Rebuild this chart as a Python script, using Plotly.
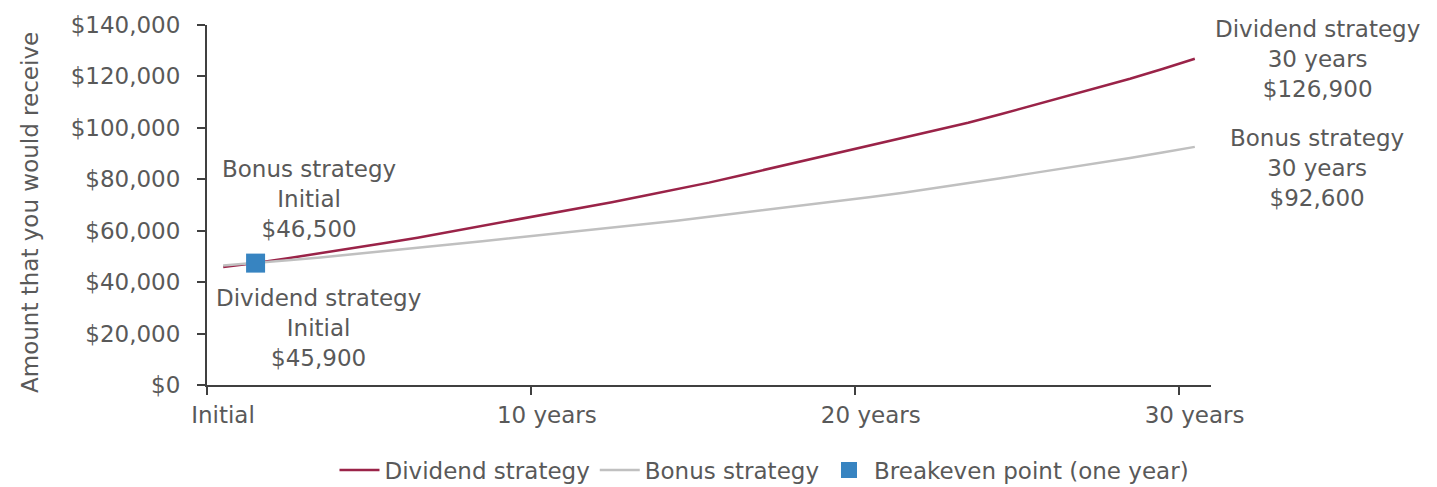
import plotly.graph_objects as go

# Year index: 0 = initial payment, then one value per year up to 30 years
years = list(range(31))

dividend_strategy = [
    45900, 47400, 49300, 51200, 53200, 55200, 57300, 59600, 61800, 64100,
    66300, 68600, 71100, 73600, 76100, 78700, 81600, 84500, 87400, 90400,
    93300, 96100, 98900, 102000, 105300, 108700, 112100, 115600, 119100, 122900,
    126900,
]
bonus_strategy = [
    46500, 47400, 48500, 49600, 50800, 52000, 53300, 54600, 55900, 57200,
    58500, 59800, 61100, 62500, 63900, 65400, 66900, 68400, 69900, 71500,
    73100, 74800, 76600, 78500, 80400, 82400, 84300, 86300, 88300, 90400,
    92600,
]
breakeven_year = [1]
breakeven_value = [47400]

x_tick_labels = ["Initial", "10 years", "20 years", "30 years"]
x_label_years = [0, 10, 20, 30]
y_ticks = [0, 20000, 40000, 60000, 80000, 100000, 120000, 140000]

FONT = "DejaVu Sans, Liberation Sans, Arial, sans-serif"
TEXT = "#595959"
AXIS = "#404040"
FS = 23

W, H = 1437, 487
M_L, M_R, M_T, M_B = 207, 226, 23, 102

fig = go.Figure()
fig.add_trace(go.Scatter(
    x=years, y=dividend_strategy, mode="lines", name="Dividend strategy",
    line=dict(color="#9A2348", width=2.5),
))
fig.add_trace(go.Scatter(
    x=years, y=bonus_strategy, mode="lines", name="Bonus strategy",
    line=dict(color="#C0C0C0", width=2.5),
))
fig.add_trace(go.Scatter(
    x=breakeven_year, y=breakeven_value, mode="markers",
    name="Breakeven point (one year)",
    marker=dict(symbol="square", size=19, color="#3784C1"),
))

# Category-style axis: tick marks sit between years, labels centred on the year
tick_marks = [v - 0.5 for v in x_label_years]
x_range = [-0.5, len(years) - 0.5]
y_range = [0, 140000]

fig.update_layout(
    width=W, height=H,
    margin=dict(l=M_L, r=M_R, t=M_T, b=M_B),
    paper_bgcolor="white", plot_bgcolor="white",
    font=dict(family=FONT, size=FS, color=TEXT),
    showlegend=True,
    legend=dict(
        orientation="h", xref="container", yref="container",
        x=0.532, xanchor="center", y=0.035, yanchor="middle",
        font=dict(family=FONT, size=FS, color=TEXT), itemwidth=40,
        traceorder="normal",
    ),
    xaxis=dict(
        range=x_range, tickmode="array", tickvals=tick_marks,
        ticktext=x_tick_labels, ticklabelshift=16,
        ticks="outside", ticklen=8, tickwidth=2, tickcolor=AXIS,
        showline=True, linecolor=AXIS, linewidth=2,
        showgrid=False, zeroline=False,
        tickfont=dict(family=FONT, size=FS, color=TEXT),
    ),
    xaxis2=dict(
        overlaying="x", anchor="y", side="bottom", range=x_range,
        tickmode="array", tickvals=tick_marks, showticklabels=False,
        ticks="inside", ticklen=8, tickwidth=2, tickcolor=AXIS,
        showline=False, showgrid=False, zeroline=False,
    ),
    yaxis=dict(
        range=y_range, tickmode="array", tickvals=y_ticks,
        tickformat="$,.0f", ticks="outside", ticklen=8, tickwidth=2,
        tickcolor=AXIS, showline=True, linecolor=AXIS, linewidth=2,
        showgrid=False, zeroline=False, ticklabelstandoff=12,
        tickfont=dict(family=FONT, size=FS, color=TEXT),
    ),
    yaxis2=dict(
        overlaying="y", anchor="x", side="left", range=y_range,
        tickmode="array", tickvals=y_ticks, showticklabels=False,
        ticks="inside", ticklen=8, tickwidth=2, tickcolor=AXIS,
        showline=False, showgrid=False, zeroline=False,
    ),
)

plot_w = W - M_L - M_R
plot_h = H - M_T - M_B


def label(text, x, y, xref="x", yref="y", angle=0):
    fig.add_annotation(
        text=text, x=x, y=y, xref=xref, yref=yref, showarrow=False,
        xanchor="center", yanchor="middle", align="center", textangle=angle,
        font=dict(family=FONT, size=FS, color=TEXT),
    )


# Vertical axis title, set slightly below the plot's midline
label("Amount that you would receive", (30 - M_L) / plot_w,
      (H - M_B - 212) / plot_h, xref="paper", yref="paper", angle=-90)

# Start-of-period labels, placed in data space near the breakeven point
label(f"Bonus strategy<br>Initial<br>${bonus_strategy[0]:,}", 2.65, 72200)
label(f"Dividend strategy<br>Initial<br>${dividend_strategy[0]:,}", 2.93, 22000)

# End-of-period labels sit in the right margin, beside the line ends
right_x = (1317 - M_L) / plot_w
label(f"Dividend strategy<br>30 years<br>${dividend_strategy[-1]:,}",
      right_x, (H - M_B - 57) / plot_h, xref="paper", yref="paper")
label(f"Bonus strategy<br>30 years<br>${bonus_strategy[-1]:,}",
      right_x, (H - M_B - 167) / plot_h, xref="paper", yref="paper")

fig.write_html("out.html")
